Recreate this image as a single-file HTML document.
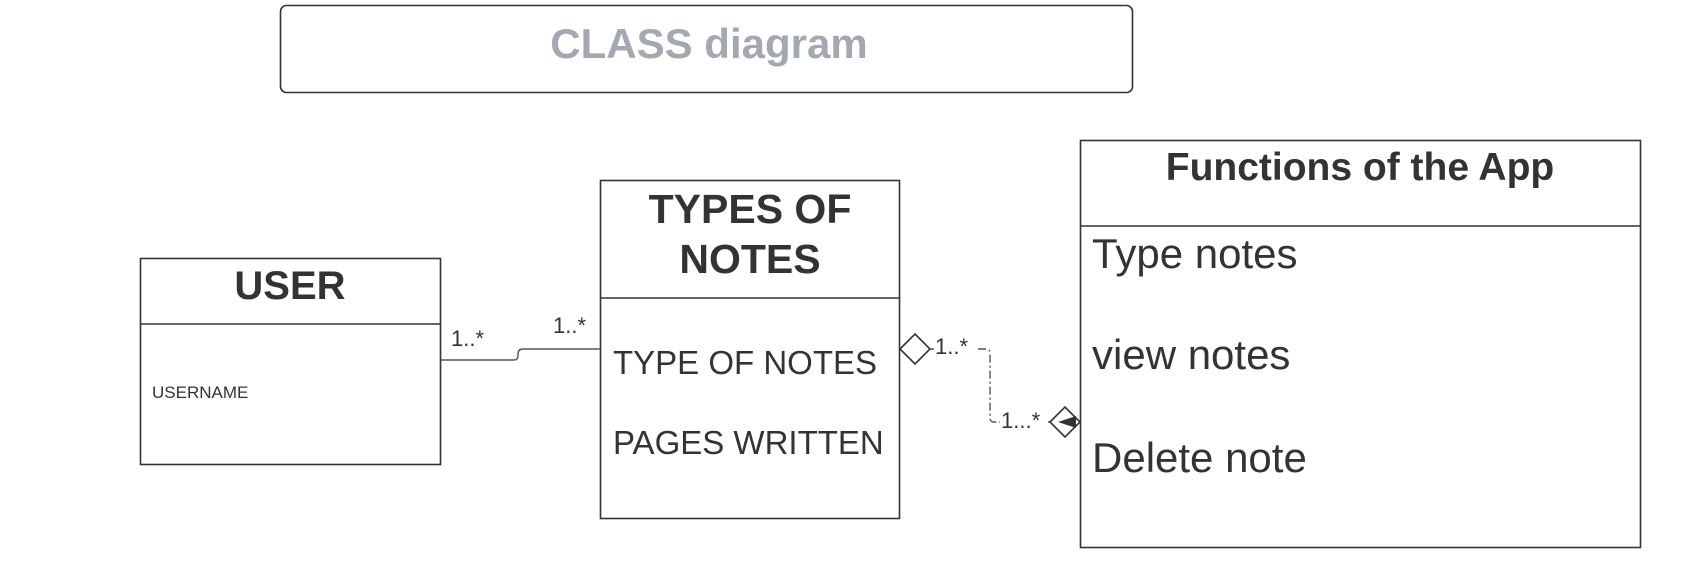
<!DOCTYPE html>
<html><head><style>
body{margin:0;width:1683px;height:563px;background:#fff;overflow:hidden;font-family:"Liberation Sans",sans-serif;}
</style></head><body>
<svg width="1683" height="563" xmlns="http://www.w3.org/2000/svg" font-family="Liberation Sans, sans-serif" fill="none">
<rect x="280.5" y="5.5" width="852" height="87" rx="6" stroke="#333" stroke-width="1.6" fill="#fff"/>
<text x="709" y="58" font-size="42" font-weight="bold" fill="#a3a8b3" text-anchor="middle">CLASS diagram</text>

<rect x="140.5" y="258.5" width="300" height="206" stroke="#333" stroke-width="1.6" fill="#fff"/>
<line x1="140" y1="324" x2="441" y2="324" stroke="#333" stroke-width="1.6"/>
<text x="290" y="299" font-size="40" font-weight="bold" fill="#333" text-anchor="middle">USER</text>
<text x="152" y="398" font-size="17" fill="#333">USERNAME</text>

<rect x="600.5" y="180.5" width="299" height="338" stroke="#333" stroke-width="1.6" fill="#fff"/>
<line x1="600" y1="298" x2="900" y2="298" stroke="#333" stroke-width="1.6"/>
<text x="750" y="223" font-size="41" font-weight="bold" fill="#333" text-anchor="middle">TYPES OF</text>
<text x="750" y="273" font-size="41" font-weight="bold" fill="#333" text-anchor="middle">NOTES</text>
<text x="613" y="374" font-size="33" fill="#333">TYPE OF NOTES</text>
<text x="613" y="454" font-size="33" fill="#333">PAGES WRITTEN</text>

<rect x="1080.5" y="140.5" width="560" height="407" stroke="#333" stroke-width="1.6" fill="#fff"/>
<line x1="1080" y1="226" x2="1641" y2="226" stroke="#333" stroke-width="1.6"/>
<text x="1360" y="180" font-size="39" font-weight="bold" fill="#333" text-anchor="middle">Functions of the App</text>
<text x="1092" y="268" font-size="42" fill="#333">Type notes</text>
<text x="1092" y="369" font-size="42" fill="#333">view notes</text>
<text x="1092" y="472" font-size="42" fill="#333">Delete note</text>

<path d="M441 360 H514 Q518 360 518 356 V354 Q518 349 523 349 H600" stroke="#555" stroke-width="1.4"/>
<text x="451" y="346" font-size="22" fill="#333">1..*</text>
<text x="553" y="333" font-size="22" fill="#333">1..*</text>

<path d="M900 349 L915 334 L930 349 L915 364 Z" stroke="#333" stroke-width="1.6" fill="#fff"/>
<path d="M930 349 H986 Q990 349 990 353 V418 Q990 422 994 422 H1050" stroke="#555" stroke-width="1.4" stroke-dasharray="8 3 2 3"/>
<path d="M1050 422 L1065 407 L1080 422 L1065 437 Z" stroke="#333" stroke-width="1.6" fill="#fff"/>
<path d="M1058 422 L1076 416 L1076 428 Z" fill="#333"/>
<rect x="934" y="334" width="44" height="22" fill="#fff"/>
<text x="935" y="354" font-size="22" fill="#333">1..*</text>
<rect x="1000" y="408" width="48" height="22" fill="#fff"/>
<text x="1001" y="428" font-size="22" fill="#333">1...*</text>
</svg>
</body></html>
